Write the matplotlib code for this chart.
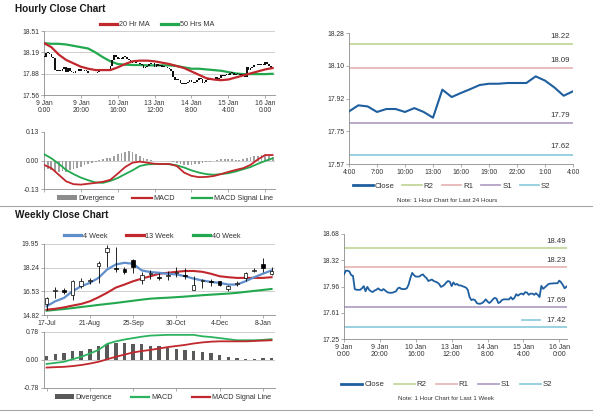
import matplotlib
matplotlib.use('Agg')
import matplotlib.pyplot as plt
import numpy as np
from matplotlib.lines import Line2D
from matplotlib.patches import Patch
import matplotlib.transforms as mtrans

plt.rcParams['font.family'] = ['Liberation Sans', 'DejaVu Sans']

# ---------------- DATA ----------------
# hourly closes, 9 Jan 0:00 .. 16 Jan 4:00 (trading hours, index = hour bar)
hourly_close = [
    18.13, 18.18, 18.18, 18.17, 18.12, 18.11, 17.93, 17.92, 17.92, 17.92,
    17.94, 17.97, 17.90, 17.96, 17.92, 17.90, 17.89, 17.91, 17.92, 17.94,
    17.92, 17.91, 17.93, 17.91, 17.89, 17.88, 17.88, 17.88, 17.89, 17.90,
    17.94, 17.95, 17.93, 17.93, 17.93, 17.94, 17.99, 18.08, 18.15, 18.12,
    18.10, 18.10, 18.10, 18.12, 18.13, 18.10, 18.08, 18.04, 18.05, 18.06,
    18.04, 18.03, 18.02, 18.00, 17.96, 17.97, 17.99, 18.02, 18.04, 18.03,
    17.97, 18.02, 17.99, 18.00, 17.98, 17.98, 17.97, 17.96, 17.95, 17.92,
    17.82, 17.78, 17.79, 17.78, 17.74, 17.73, 17.73, 17.74, 17.76, 17.79,
    17.76, 17.74, 17.76, 17.79, 17.81, 17.80, 17.74, 17.75, 17.78, 17.79,
    17.79, 17.79, 17.79, 17.82, 17.79, 17.81, 17.86, 17.84, 17.86, 17.87,
    17.855, 17.888, 17.882, 17.852, 17.868, 17.868, 17.852, 17.873, 17.852, 17.821,
    17.973, 17.933, 17.955, 17.976, 17.998, 18.005, 18.005, 18.009, 18.009, 18.009,
    18.045, 18.022, 17.985, 17.940, 17.964]

# moving averages / MACD read every 4 hourly bars (0, 4, ..., 124)
ma_hours = list(range(0, 125, 4))
ma20 = [18.33, 18.27, 18.16, 18.08, 18.03, 17.98, 17.95, 17.93, 17.93, 17.93,
        17.97, 18.02, 18.06, 18.07, 18.07, 18.06, 18.04, 18.02, 17.99, 17.96,
        17.91, 17.86, 17.81, 17.79, 17.78, 17.79, 17.82, 17.85, 17.88, 17.91,
        17.94, 17.96]
ma50 = [18.33, 18.32, 18.32, 18.31, 18.29, 18.27, 18.25, 18.19, 18.12, 18.06,
        18.02, 18.01, 18.005, 18.005, 18.00, 18.00, 18.00, 18.00, 17.99, 17.97,
        17.95, 17.95, 17.94, 17.93, 17.92, 17.90, 17.88, 17.87, 17.87, 17.87,
        17.87, 17.875]
h_macd = [-0.020, -0.035, -0.065, -0.095, -0.108, -0.110, -0.106, -0.102, -0.097, -0.088,
          -0.060, -0.030, -0.010, -0.005, -0.010, -0.015, -0.016, -0.016, -0.025, -0.055,
          -0.070, -0.076, -0.075, -0.071, -0.062, -0.052, -0.043, -0.035, -0.020, 0.005,
          0.025, 0.025]
h_signal = [0.029, 0.010, -0.015, -0.043, -0.062, -0.078, -0.090, -0.100, -0.102, -0.093,
            -0.080, -0.062, -0.045, -0.025, -0.018, -0.016, -0.016, -0.017, -0.022, -0.032,
            -0.045, -0.055, -0.062, -0.065, -0.062, -0.058, -0.050, -0.040, -0.030, -0.015,
            -0.002, 0.010]
# divergence read every 2 hourly bars (0, 2, ..., 124)
div_hours = list(range(0, 125, 2))
h_div = [-0.049, -0.040, -0.042, -0.048, -0.052, -0.050, -0.052, -0.045, -0.040, -0.035,
         -0.028, -0.022, -0.015, -0.010, -0.005, 0.003, 0.008, 0.010, 0.012, 0.020,
         0.028, 0.035, 0.040, 0.042, 0.038, 0.030, 0.020, 0.012, 0.005, 0.002,
         0.000, -0.001, -0.001, 0.000, -0.002, -0.005, -0.012, -0.018, -0.022, -0.022,
         -0.020, -0.018, -0.015, -0.012, -0.008, -0.005, -0.002, 0.002, 0.005, 0.008,
         0.008, 0.005, 0.004, 0.002, 0.005, 0.012, 0.018, 0.020, 0.022, 0.024,
         0.025, 0.020, 0.015]
hour_tick_pos = [0, 20, 40, 60, 80, 100, 120]
hour_tick_labels = ['9 Jan\n0:00', '9 Jan\n20:00', '10 Jan\n16:00', '13 Jan\n12:00',
                    '14 Jan\n8:00', '15 Jan\n4:00', '16 Jan\n0:00']

# last 24 hours
day_close = hourly_close[100:]
day_tick_labels = ['4:00', '7:00', '10:00', '13:00', '16:00', '19:00', '22:00', '1:00', '4:00']
day_levels = {'R2': 18.22, 'R1': 18.09, 'S1': 17.79, 'S2': 17.62}
day_yticks = ['17.57', '17.75', '17.92', '18.10', '18.28']
week_levels = {'R2': 18.49, 'R1': 18.23, 'S1': 17.69, 'S2': 17.42}
week_yticks = ['17.25', '17.61', '17.96', '18.32', '18.68']

# weekly candles (17-Jul .. 15-Jan)
wk_open = [15.64, 16.54, 16.66, 16.30, 16.95, 17.28, 18.33, 19.34, 18.20, 18.16,
           18.76, 17.38, 17.80, 17.55, 17.62, 17.85, 17.72, 16.66, 17.30, 17.25,
           17.26, 16.71, 17.08, 17.50, 18.00, 18.47, 17.80]
wk_close = [16.05, 16.66, 16.50, 17.30, 17.31, 17.33, 18.60, 19.66, 18.13, 17.94,
            18.28, 17.72, 17.85, 17.48, 17.70, 17.90, 17.65, 16.97, 17.33, 17.22,
            17.02, 16.90, 17.12, 17.87, 18.06, 18.23, 18.03]
wk_high = [16.10, 16.85, 16.78, 17.35, 17.50, 17.48, 18.70, 19.85, 19.70, 18.30,
           18.85, 17.95, 18.05, 17.85, 18.00, 18.30, 18.25, 17.65, 17.40, 17.40,
           17.30, 17.00, 17.30, 17.95, 18.20, 18.95, 18.30]
wk_low = [15.20, 16.05, 16.35, 15.90, 16.75, 17.05, 17.15, 18.30, 17.90, 17.75,
          17.85, 17.05, 17.45, 17.35, 17.35, 17.60, 17.45, 16.60, 16.80, 16.95,
          16.95, 16.55, 16.95, 17.30, 17.90, 17.90, 17.70]
wk_ma4 = [15.45, 15.81, 16.05, 16.54, 16.90, 17.14, 17.50, 18.11, 18.47, 18.59,
          18.52, 18.04, 17.92, 17.87, 17.80, 17.75, 17.62, 17.45, 17.31, 17.21,
          17.14, 17.02, 17.02, 17.26, 17.55, 17.80, 18.04]
wk_ma13 = [15.20, 15.27, 15.37, 15.50, 15.62, 15.81, 16.10, 16.43, 16.80, 17.02,
           17.26, 17.45, 17.62, 17.80, 17.87, 17.94, 18.00, 18.00, 17.94, 17.80,
           17.62, 17.55, 17.50, 17.50, 17.50, 17.50, 17.55]
wk_ma40 = [15.13, 15.19, 15.25, 15.32, 15.40, 15.47, 15.55, 15.62, 15.69, 15.77,
           15.85, 15.93, 16.00, 16.04, 16.07, 16.11, 16.15, 16.20, 16.25, 16.29,
           16.33, 16.37, 16.42, 16.49, 16.56, 16.63, 16.70]
wk_macd = [-0.11, -0.08, -0.05, 0.02, 0.09, 0.18, 0.28, 0.45, 0.52, 0.57,
           0.61, 0.65, 0.68, 0.69, 0.70, 0.70, 0.70, 0.70, 0.66, 0.64,
           0.61, 0.58, 0.55, 0.55, 0.55, 0.56, 0.58]
wk_signal = [-0.21, -0.20, -0.19, -0.17, -0.14, -0.10, -0.05, 0.02, 0.09, 0.15,
             0.21, 0.25, 0.28, 0.32, 0.36, 0.39, 0.42, 0.46, 0.49, 0.51,
             0.52, 0.52, 0.52, 0.52, 0.53, 0.54, 0.55]
wk_div = [0.11, 0.16, 0.19, 0.24, 0.26, 0.30, 0.38, 0.45, 0.47, 0.47,
          0.45, 0.44, 0.40, 0.38, 0.33, 0.30, 0.28, 0.26, 0.21, 0.19,
          0.14, 0.09, 0.05, 0.04, 0.04, 0.05, 0.05]
wk_tick_pos = [0, 5, 10, 15, 20, 25]
wk_tick_labels = ['17-Jul', '21-Aug', '25-Sep', '30-Oct', '4-Dec', '8-Jan']

# ---------------- STYLE ----------------
RED = '#c0282d'
GREEN = '#22a84f'
BLUE4 = '#5f8ecb'
CLOSE = '#1f5f9f'
LVL_COL = {'R2': '#c4d79b', 'R1': '#e6b9b8', 'S1': '#b3a2c7', 'S2': '#92cddc'}
AXC = '#8c8c8c'
TXT = '#333333'
GRID = '#c8c8c8'

W, H = 600, 413
fig = plt.figure(figsize=(6, 4.13), dpi=100)
fig.patch.set_facecolor('white')


def add_ax(l, t, r, b):
    return fig.add_axes([l / W, 1 - b / H, (r - l) / W, (b - t) / H])


def style(ax, fs=4.9):
    for s in ['top', 'right']:
        ax.spines[s].set_visible(False)
    for s in ['left', 'bottom']:
        ax.spines[s].set_color(AXC)
        ax.spines[s].set_linewidth(0.6)
    ax.tick_params(labelsize=fs, colors=AXC, labelcolor=TXT, length=2, width=0.5, pad=1.5)


def fleg(handles, labels, cx, cy, fs=5.2, hl=2.6, cs=1.5):
    fig.legend(handles, labels, loc='center', bbox_to_anchor=(cx / W, 1 - cy / H),
               ncol=len(handles), frameon=False, fontsize=fs, handlelength=hl,
               handletextpad=0.25, columnspacing=cs, borderaxespad=0, borderpad=0,
               labelcolor=TXT, handleheight=0.6)


# titles
fig.text(15 / W, 1 - 9.5 / H, 'Hourly Close Chart', fontsize=7.2, fontweight='bold',
         color='#1a1a1a', va='center', ha='left')
fig.text(15 / W, 1 - 215.5 / H, 'Weekly Close Chart', fontsize=7.2, fontweight='bold',
         color='#1a1a1a', va='center', ha='left')

# separators
fig.add_artist(Line2D([0, 592 / W], [1 - 206 / H] * 2, color='#a6a6a6', lw=0.8))
fig.add_artist(Line2D([0, 592 / W], [1 - 409.5 / H] * 2, color='#a6a6a6', lw=0.8))

# ---------- A: hourly candles ----------
axA = add_ax(44, 31, 275, 95)
style(axA)
hc = np.array(hourly_close)
hx = np.arange(len(hc))
ho = np.concatenate([[hc[0]], hc[:-1]])
lo = np.minimum(ho, hc)
hi = np.maximum(ho, hc)
axA.bar(hx, np.maximum(hi - lo, 0.012), bottom=lo, width=0.9, color='#111111', lw=0, zorder=3)
axA.plot(ma_hours, ma20, color=RED, lw=1.6, zorder=4)
axA.plot(ma_hours, ma50, color=GREEN, lw=1.6, zorder=2)
axA.set_xlim(0, 125.3)
axA.set_ylim(17.56, 18.51)
axA.set_yticks(np.linspace(17.56, 18.51, 4))
axA.set_yticklabels(['17.56', '17.88', '18.19', '18.51'])
axA.set_xticks(hour_tick_pos)
axA.set_xticklabels(hour_tick_labels, linespacing=1.05)
axA.grid(axis='y', color=GRID, lw=0.6)
axA.set_axisbelow(True)
fleg([Line2D([], [], color=RED, lw=2.3), Line2D([], [], color=GREEN, lw=2.3)],
     ['20 Hr MA', '50 Hrs MA'], 157, 25, hl=2.4, cs=1.6)

# ---------- B: hourly MACD ----------
axB = add_ax(44, 132, 275, 189)
style(axB)
axB.bar(div_hours, h_div, width=1.0, color='#a0a0a0', lw=0, zorder=2)
axB.plot(ma_hours, h_signal, color=GREEN, lw=1.3, zorder=3)
axB.plot(ma_hours, h_macd, color=RED, lw=1.3, zorder=4)
axB.axhline(0, color=GRID, lw=0.6, zorder=1)
axB.set_xlim(0, 125.3)
axB.set_ylim(-0.13, 0.13)
axB.set_yticks([-0.13, 0, 0.13])
axB.set_yticklabels(['-0.13', '0.00', '0.13'])
axB.set_xticks(hour_tick_pos)
axB.set_xticklabels([])
fleg([Patch(facecolor='#8c8c8c', edgecolor='none'), Line2D([], [], color=RED, lw=1.6),
      Line2D([], [], color=GREEN, lw=1.6)],
     ['Divergence', 'MACD', 'MACD Signal Line'], 165, 198.5, hl=2.7, cs=2.4)

# ---------- C: last 24 hours ----------
axC = add_ax(349, 33, 573, 164)
style(axC, fs=4.9)
for k, v in day_levels.items():
    axC.axhline(v, color=LVL_COL[k], lw=1.3, zorder=1)
    axC.annotate(f'{v:.2f}', xy=(1, v), xycoords=('axes fraction', 'data'),
                 xytext=(-2.5, 5.6), textcoords='offset points', ha='right', va='center',
                 fontsize=5.6, color=TXT)
axC.plot(range(len(day_close)), day_close, color=CLOSE, lw=1.5, zorder=3)
axC.set_xlim(0, 24)
axC.set_ylim(17.57, 18.28)
axC.set_yticks(np.linspace(17.57, 18.28, 5))
axC.set_yticklabels(day_yticks)
axC.set_xticks(range(0, 25, 3))
axC.set_xticklabels(day_tick_labels)
fleg([Line2D([], [], color=CLOSE, lw=2.0)] + [Line2D([], [], color=LVL_COL[k], lw=1.3) for k in day_levels],
     ['Close'] + list(day_levels.keys()), 452, 186.5, fs=5.6, hl=2.5, cs=1.0)
fig.text(447 / W, 1 - 201 / H, 'Note: 1 Hour Chart for Last 24 Hours', fontsize=4.4,
         color=TXT, ha='center', va='center')

# ---------- D: weekly candles ----------
axD = add_ax(44, 244, 275, 315)
style(axD)
wo, wc = np.array(wk_open), np.array(wk_close)
wx = np.arange(len(wo))
axD.plot(wx, wk_ma40, color=GREEN, lw=1.5, zorder=2)
axD.plot(wx, wk_ma13, color=RED, lw=1.5, zorder=2)
axD.plot(wx, wk_ma4, color=BLUE4, lw=1.6, zorder=2)
axD.vlines(wx, wk_low, wk_high, color='black', lw=0.6, zorder=3)
up = wc >= wo
axD.bar(wx, np.maximum(np.abs(wc - wo), 0.03), bottom=np.minimum(wo, wc), width=0.42,
        color=np.where(up, 'white', 'black'), edgecolor='black', lw=0.5, zorder=4)
axD.set_xlim(-0.3, 26.4)
axD.set_ylim(14.82, 19.95)
axD.set_yticks(np.linspace(14.82, 19.95, 4))
axD.set_yticklabels(['14.82', '16.53', '18.24', '19.95'])
axD.set_xticks(wk_tick_pos)
axD.set_xticklabels(wk_tick_labels)
axD.grid(axis='y', color=GRID, lw=0.6)
axD.set_axisbelow(True)
fleg([Line2D([], [], color=BLUE4, lw=2.3), Line2D([], [], color=RED, lw=2.3),
      Line2D([], [], color=GREEN, lw=2.3)],
     ['4 Week', '13 Week', '40 Week'], 152, 236, hl=2.4, cs=2.6)

# ---------- E: weekly MACD ----------
axE = add_ax(44, 332, 275, 388)
style(axE)
axE.bar(wx, wk_div, width=0.4, color='#595959', lw=0, zorder=2)
axE.plot(wx, wk_macd, color='#2db35f', lw=1.3, zorder=3)
axE.plot(wx, wk_signal, color=RED, lw=1.3, zorder=3)
axE.axhline(0, color=GRID, lw=0.6, zorder=1)
axE.set_xlim(-0.3, 26.4)
axE.set_ylim(-0.78, 0.78)
axE.set_yticks([-0.78, 0, 0.78])
axE.set_yticklabels(['-0.78', '0.00', '0.78'])
axE.set_xticks(wk_tick_pos)
axE.set_xticklabels([])
axE.grid(axis='y', color=GRID, lw=0.6)
axE.set_axisbelow(True)
fleg([Patch(facecolor='#595959', edgecolor='none'), Line2D([], [], color='#2db35f', lw=1.6),
      Line2D([], [], color=RED, lw=1.6)],
     ['Divergence', 'MACD', 'MACD Signal Line'], 163, 397.5, hl=2.6, cs=2.6)

# ---------- F: last week hourly close ----------
axF = add_ax(344, 234, 567, 339)
style(axF, fs=4.9)
for k, v in week_levels.items():
    axF.axhline(v, color=LVL_COL[k], lw=1.3, zorder=1)
    axF.annotate(f'{v:.2f}', xy=(1, v), xycoords=('axes fraction', 'data'),
                 xytext=(-1, 4.4), textcoords='offset points', ha='right', va='center',
                 fontsize=5.6, color=TXT)
off = mtrans.offset_copy(mtrans.blended_transform_factory(axF.transAxes, axF.transData),
                         fig=fig, x=0, y=4.4, units='points')
axF.plot([0.80, 0.88], [week_levels['S2']] * 2, color=LVL_COL['S2'], lw=1.3, transform=off,
         clip_on=False)
axF.plot(hx, hourly_close, color=CLOSE, lw=1.3, zorder=3)
axF.set_xlim(0, 124.3)
axF.set_ylim(17.25, 18.68)
axF.set_yticks(np.linspace(17.25, 18.68, 5))
axF.set_yticklabels(week_yticks)
axF.set_xticks(hour_tick_pos)
axF.set_xticklabels(hour_tick_labels, linespacing=1.05, fontsize=5.0)
fleg([Line2D([], [], color=CLOSE, lw=2.0)] + [Line2D([], [], color=LVL_COL[k], lw=1.3) for k in week_levels],
     ['Close'] + list(week_levels.keys()), 447, 384.5, fs=5.6, hl=2.7, cs=1.2)
fig.text(446 / W, 1 - 398 / H, 'Note: 1 Hour Chart for Last 1 Week', fontsize=4.4,
         color=TXT, ha='center', va='center')

fig.savefig('out.png', dpi=100, facecolor='white')
